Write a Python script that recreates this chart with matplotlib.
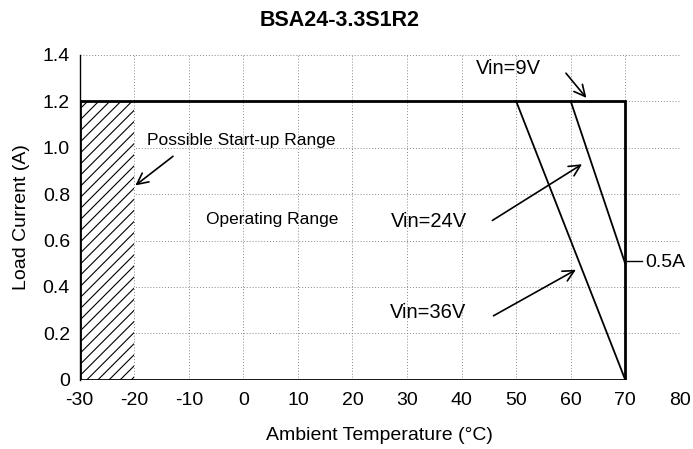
import matplotlib.pyplot as plt

# === data ===
temp_9v = [-30, 70, 70]
load_9v = [1.2, 1.2, 0]
temp_24v = [60, 70]
load_24v = [1.2, 0.5]
temp_36v = [50, 70]
load_36v = [1.2, 0]
startup_temp = [-30, -20]
startup_load = 1.2
x_ticks = [-30, -20, -10, 0, 10, 20, 30, 40, 50, 60, 70, 80]
y_ticks = [0, 0.2, 0.4, 0.6, 0.8, 1.0, 1.2, 1.4]
y_ticklabels = ["0", "0.2", "0.4", "0.6", "0.8", "1.0", "1.2", "1.4"]

plt.rcParams['font.family'] = ['Liberation Sans', 'DejaVu Sans']
plt.rcParams['axes.unicode_minus'] = False
plt.rcParams['hatch.linewidth'] = 0.8

fig = plt.figure(figsize=(6.93, 4.49), dpi=100)
ax = fig.add_axes([0.115, 0.154, 0.866, 0.724])

# grid
ax.grid(True, linestyle=(0, (1, 2)), color="#888888", linewidth=0.7)
ax.set_axisbelow(True)

# hatched start-up region
ax.fill_between(startup_temp, 0, startup_load, facecolor="white", edgecolor="black",
                hatch="///", linewidth=0, zorder=2)

# outline of operating range (Vin=9V)
ax.plot(temp_9v, load_9v, color="black", lw=2.0, zorder=3, solid_joinstyle="miter")
ax.plot([-30, 70], [0, 0], color="black", lw=2.0, zorder=3)
ax.plot([-30, -30], [0, 1.2], color="black", lw=2.0, zorder=3)
# derating lines
ax.plot(temp_24v, load_24v, color="black", lw=1.3, zorder=3)
ax.plot(temp_36v, load_36v, color="black", lw=1.3, zorder=3)

ax.set_xlim(-30, 80)
ax.set_ylim(0, 1.4)
ax.set_xticks(x_ticks)
ax.set_yticks(y_ticks)
ax.set_yticklabels(y_ticklabels)
ax.tick_params(length=0, labelsize=14)
ax.tick_params(axis="x", pad=9)
ax.tick_params(axis="y", pad=7)
for s in ["top", "right", "bottom"]:
    ax.spines[s].set_visible(False)
ax.spines["left"].set_linewidth(1.0)

ax.set_xlabel("Ambient Temperature (°C)", fontsize=14, labelpad=13)
ax.set_ylabel("Load Current (A)", fontsize=14, labelpad=9)
fig.text(0.49, 0.955, "BSA24-3.3S1R2", fontsize=15.5, fontweight="bold",
         ha="center", va="center")

# annotations
arrow = dict(arrowstyle="->", color="black", lw=1.2, mutation_scale=20)
ax.annotate("", xy=(-20.2, 0.83), xytext=(-12.5, 0.97), arrowprops=arrow)
ax.text(-17.6, 1.03, "Possible Start-up Range", fontsize=12.5, va="center", ha="left")
ax.text(-6.8, 0.69, "Operating Range", fontsize=12.5, va="center", ha="left")

ax.annotate("", xy=(63.2, 1.205), xytext=(58.8, 1.33), arrowprops=arrow)
ax.text(48.5, 1.34, "Vin=9V", fontsize=14.5, va="center", ha="center")

ax.annotate("", xy=(62.5, 0.935), xytext=(45.2, 0.68), arrowprops=arrow)
ax.text(34.0, 0.68, "Vin=24V", fontsize=14.5, va="center", ha="center")

ax.annotate("", xy=(61.4, 0.48), xytext=(45.4, 0.27), arrowprops=arrow)
ax.text(33.8, 0.29, "Vin=36V", fontsize=14.5, va="center", ha="center")

ax.plot([70.4, 73.0], [0.51, 0.51], color="black", lw=1.0, clip_on=False)
ax.text(73.6, 0.505, "0.5A", fontsize=14, va="center", ha="left")

fig.savefig("out.png", dpi=100)
